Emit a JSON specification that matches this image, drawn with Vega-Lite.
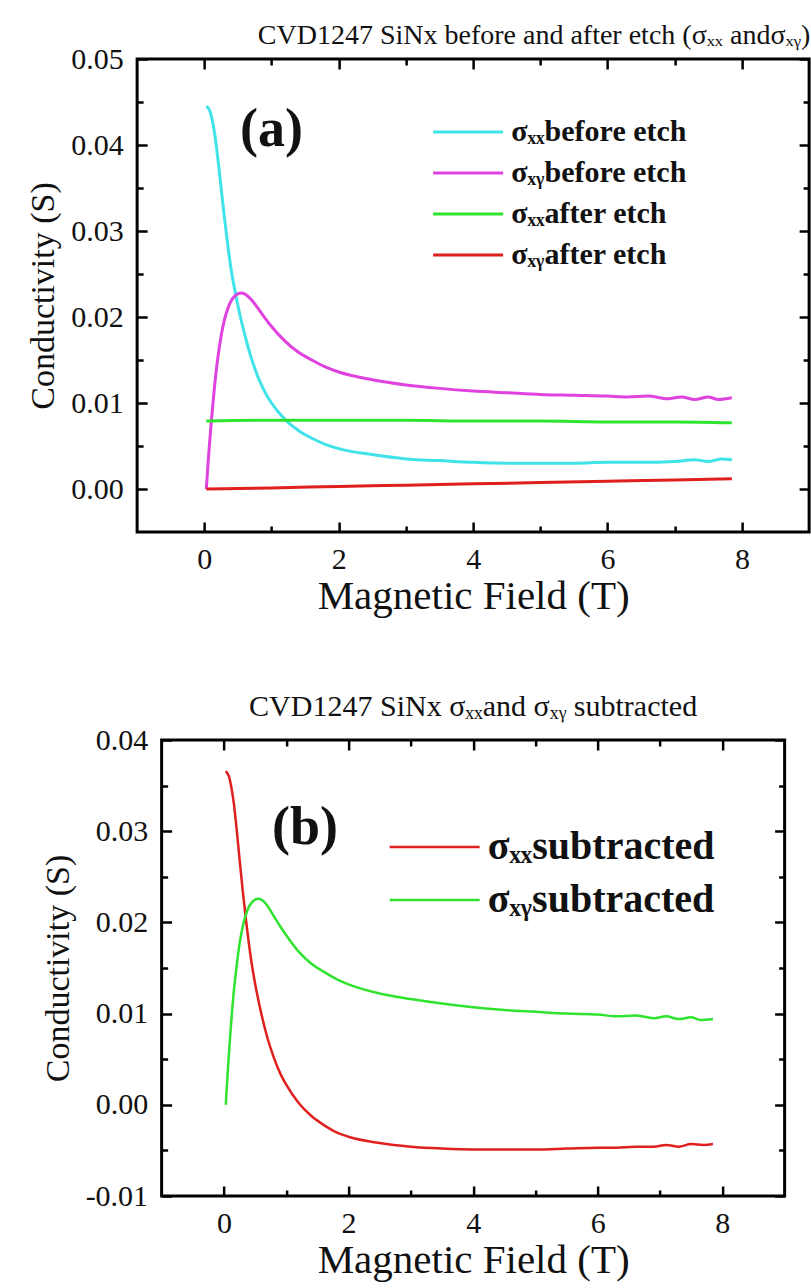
{
  "$schema": "https://vega.github.io/schema/vega-lite/v6.json",
  "background": "white",
  "padding": {"left": 25, "top": 20, "right": 0, "bottom": 0},
  "center": true,
  "spacing": 72,
  "resolve": {"scale": {"color": "independent"}, "legend": {"color": "independent"}},
  "config": {
    "font": "Liberation Serif",
    "view": {"stroke": "black", "strokeWidth": 3},
    "axis": {
      "grid": false,
      "domain": false,
      "offset": -10,
      "tickSize": 10,
      "tickColor": "black",
      "tickWidth": 2.5,
      "labelFlush": false,
      "labelFont": "Liberation Serif",
      "labelFontSize": 30,
      "labelColor": "#111",
      "titleFont": "Liberation Serif",
      "titleFontWeight": "normal",
      "titleColor": "#111"
    },
    "title": {"font": "Liberation Serif", "fontWeight": "normal", "fontSize": 28, "color": "#111"}
  },
  "vconcat": [
    {
      "title": {"text": "CVD1247 SiNx before and after etch (σₓₓ andσₓᵧ)", "anchor": "end", "offset": -6},
      "width": 672,
      "height": 473,
      "layer": [
        {
          "data": {"values": [
            {"B": 0.03, "S": 0.0445, "series": "σₓₓbefore etch"},
            {"B": 0.08, "S": 0.044, "series": "σₓₓbefore etch"},
            {"B": 0.12, "S": 0.0428, "series": "σₓₓbefore etch"},
            {"B": 0.16, "S": 0.041, "series": "σₓₓbefore etch"},
            {"B": 0.2, "S": 0.0385, "series": "σₓₓbefore etch"},
            {"B": 0.25, "S": 0.035, "series": "σₓₓbefore etch"},
            {"B": 0.3, "S": 0.0315, "series": "σₓₓbefore etch"},
            {"B": 0.35, "S": 0.0283, "series": "σₓₓbefore etch"},
            {"B": 0.4, "S": 0.0255, "series": "σₓₓbefore etch"},
            {"B": 0.45, "S": 0.0233, "series": "σₓₓbefore etch"},
            {"B": 0.5, "S": 0.0213, "series": "σₓₓbefore etch"},
            {"B": 0.6, "S": 0.018, "series": "σₓₓbefore etch"},
            {"B": 0.7, "S": 0.0152, "series": "σₓₓbefore etch"},
            {"B": 0.8, "S": 0.013, "series": "σₓₓbefore etch"},
            {"B": 0.9, "S": 0.0113, "series": "σₓₓbefore etch"},
            {"B": 1.0, "S": 0.01, "series": "σₓₓbefore etch"},
            {"B": 1.2, "S": 0.0081, "series": "σₓₓbefore etch"},
            {"B": 1.4, "S": 0.0068, "series": "σₓₓbefore etch"},
            {"B": 1.6, "S": 0.0059, "series": "σₓₓbefore etch"},
            {"B": 1.8, "S": 0.0052, "series": "σₓₓbefore etch"},
            {"B": 2.0, "S": 0.0047, "series": "σₓₓbefore etch"},
            {"B": 2.5, "S": 0.004, "series": "σₓₓbefore etch"},
            {"B": 3.0, "S": 0.0035, "series": "σₓₓbefore etch"},
            {"B": 3.5, "S": 0.0033, "series": "σₓₓbefore etch"},
            {"B": 4.0, "S": 0.0031, "series": "σₓₓbefore etch"},
            {"B": 4.5, "S": 0.003, "series": "σₓₓbefore etch"},
            {"B": 5.0, "S": 0.003, "series": "σₓₓbefore etch"},
            {"B": 5.5, "S": 0.003, "series": "σₓₓbefore etch"},
            {"B": 6.0, "S": 0.0031, "series": "σₓₓbefore etch"},
            {"B": 6.5, "S": 0.0031, "series": "σₓₓbefore etch"},
            {"B": 7.0, "S": 0.0032, "series": "σₓₓbefore etch"},
            {"B": 7.3, "S": 0.0034, "series": "σₓₓbefore etch"},
            {"B": 7.5, "S": 0.0032, "series": "σₓₓbefore etch"},
            {"B": 7.7, "S": 0.0035, "series": "σₓₓbefore etch"},
            {"B": 7.85, "S": 0.0034, "series": "σₓₓbefore etch"},

            {"B": 0.03, "S": 0.0, "series": "σₓᵧbefore etch"},
            {"B": 0.06, "S": 0.0035, "series": "σₓᵧbefore etch"},
            {"B": 0.1, "S": 0.0075, "series": "σₓᵧbefore etch"},
            {"B": 0.15, "S": 0.0118, "series": "σₓᵧbefore etch"},
            {"B": 0.2, "S": 0.0152, "series": "σₓᵧbefore etch"},
            {"B": 0.25, "S": 0.0178, "series": "σₓᵧbefore etch"},
            {"B": 0.3, "S": 0.0197, "series": "σₓᵧbefore etch"},
            {"B": 0.35, "S": 0.021, "series": "σₓᵧbefore etch"},
            {"B": 0.4, "S": 0.0219, "series": "σₓᵧbefore etch"},
            {"B": 0.45, "S": 0.0224, "series": "σₓᵧbefore etch"},
            {"B": 0.5, "S": 0.0227, "series": "σₓᵧbefore etch"},
            {"B": 0.55, "S": 0.0228, "series": "σₓᵧbefore etch"},
            {"B": 0.6, "S": 0.0227, "series": "σₓᵧbefore etch"},
            {"B": 0.7, "S": 0.022, "series": "σₓᵧbefore etch"},
            {"B": 0.8, "S": 0.021, "series": "σₓᵧbefore etch"},
            {"B": 0.9, "S": 0.0199, "series": "σₓᵧbefore etch"},
            {"B": 1.0, "S": 0.0189, "series": "σₓᵧbefore etch"},
            {"B": 1.2, "S": 0.0172, "series": "σₓᵧbefore etch"},
            {"B": 1.4, "S": 0.0159, "series": "σₓᵧbefore etch"},
            {"B": 1.6, "S": 0.015, "series": "σₓᵧbefore etch"},
            {"B": 1.8, "S": 0.0142, "series": "σₓᵧbefore etch"},
            {"B": 2.0, "S": 0.0136, "series": "σₓᵧbefore etch"},
            {"B": 2.5, "S": 0.0127, "series": "σₓᵧbefore etch"},
            {"B": 3.0, "S": 0.0121, "series": "σₓᵧbefore etch"},
            {"B": 3.5, "S": 0.0117, "series": "σₓᵧbefore etch"},
            {"B": 4.0, "S": 0.0114, "series": "σₓᵧbefore etch"},
            {"B": 4.5, "S": 0.0112, "series": "σₓᵧbefore etch"},
            {"B": 5.0, "S": 0.011, "series": "σₓᵧbefore etch"},
            {"B": 5.5, "S": 0.0109, "series": "σₓᵧbefore etch"},
            {"B": 6.0, "S": 0.0108, "series": "σₓᵧbefore etch"},
            {"B": 6.3, "S": 0.0107, "series": "σₓᵧbefore etch"},
            {"B": 6.6, "S": 0.0108, "series": "σₓᵧbefore etch"},
            {"B": 6.9, "S": 0.0105, "series": "σₓᵧbefore etch"},
            {"B": 7.1, "S": 0.0107, "series": "σₓᵧbefore etch"},
            {"B": 7.3, "S": 0.0104, "series": "σₓᵧbefore etch"},
            {"B": 7.5, "S": 0.0107, "series": "σₓᵧbefore etch"},
            {"B": 7.65, "S": 0.0104, "series": "σₓᵧbefore etch"},
            {"B": 7.85, "S": 0.0106, "series": "σₓᵧbefore etch"},

            {"B": 0.03, "S": 0.0079, "series": "σₓₓafter etch"},
            {"B": 1.0, "S": 0.008, "series": "σₓₓafter etch"},
            {"B": 2.0, "S": 0.008, "series": "σₓₓafter etch"},
            {"B": 3.0, "S": 0.008, "series": "σₓₓafter etch"},
            {"B": 4.0, "S": 0.0079, "series": "σₓₓafter etch"},
            {"B": 5.0, "S": 0.0079, "series": "σₓₓafter etch"},
            {"B": 6.0, "S": 0.0078, "series": "σₓₓafter etch"},
            {"B": 7.0, "S": 0.0078, "series": "σₓₓafter etch"},
            {"B": 7.85, "S": 0.0077, "series": "σₓₓafter etch"},

            {"B": 0.03, "S": 0.0, "series": "σₓᵧafter etch"},
            {"B": 1.0, "S": 0.00013, "series": "σₓᵧafter etch"},
            {"B": 2.0, "S": 0.0003, "series": "σₓᵧafter etch"},
            {"B": 3.0, "S": 0.00045, "series": "σₓᵧafter etch"},
            {"B": 4.0, "S": 0.0006, "series": "σₓᵧafter etch"},
            {"B": 5.0, "S": 0.00075, "series": "σₓᵧafter etch"},
            {"B": 6.0, "S": 0.0009, "series": "σₓᵧafter etch"},
            {"B": 7.0, "S": 0.00105, "series": "σₓᵧafter etch"},
            {"B": 7.85, "S": 0.0012, "series": "σₓᵧafter etch"}
          ]},
          "mark": {"type": "line", "strokeWidth": 3, "interpolate": "monotone"},
          "encoding": {
            "x": {
              "field": "B", "type": "quantitative",
              "scale": {"domain": [-1, 9], "nice": false, "zero": false},
              "axis": {
                "orient": "bottom",
                "title": "Magnetic Field (T)",
                "titleFont": "Liberation Serif", "titleFontSize": 41, "labelFont": "Liberation Serif",
                "values": [0, 1, 2, 3, 4, 5, 6, 7, 8],
                "labelExpr": "datum.value % 2 === 0 ? datum.label : ''",
                "tickDash": {"condition": {"test": "datum.value % 2 === 0", "value": [10, 0]}, "value": [0, 4, 6, 100]},
                "labelPadding": 12,
                "titlePadding": 2
              }
            },
            "y": {
              "field": "S", "type": "quantitative",
              "scale": {"domain": [-0.005, 0.05], "nice": false, "zero": false},
              "axis": {
                "orient": "left",
                "title": "Conductivity (S)",
                "titleFont": "Liberation Serif", "titleFontSize": 34, "labelFont": "Liberation Serif",
                "values": [0, 0.005, 0.01, 0.015, 0.02, 0.025, 0.03, 0.035, 0.04, 0.045, 0.05],
                "format": ".2f",
                "labelExpr": "abs(datum.value * 100 - round(datum.value * 100)) < 0.000001 ? datum.label : ''",
                "tickDash": {"condition": {"test": "abs(datum.value * 100 - round(datum.value * 100)) < 0.000001", "value": [10, 0]}, "value": [0, 4, 6, 100]},
                "labelPadding": 14,
                "titlePadding": 10
              }
            },
            "color": {
              "field": "series", "type": "nominal",
              "scale": {
                "domain": ["σₓₓbefore etch", "σₓᵧbefore etch", "σₓₓafter etch", "σₓᵧafter etch"],
                "range": ["#3fe3e8", "#e042e0", "#2fe32f", "#e0201e"]
              },
              "legend": {
                "orient": "none", "legendX": 316, "legendY": 58, "title": null,
                "symbolType": "M-4,0H4", "symbolSize": 306, "symbolStrokeWidth": 3,
                "labelFont": "Liberation Serif", "labelFontSize": 30, "labelFontWeight": "bold",
                "labelColor": "#111", "labelOffset": 28, "labelLimit": 0, "rowPadding": 11
              }
            }
          }
        },
        {
          "data": {"values": [{"label": "(a)"}]},
          "mark": {"type": "text", "font": "Liberation Serif", "fontSize": 54, "fontWeight": "bold", "color": "#111"},
          "encoding": {
            "x": {
              "datum": 1.0, "type": "quantitative",
              "scale": {"domain": [-1, 9], "nice": false, "zero": false},
              "axis": {
                "orient": "top", "title": null, "labels": false,
                "values": [0, 1, 2, 3, 4, 5, 6, 7, 8],
                "tickDash": {"condition": {"test": "datum.value % 2 === 0", "value": [10, 0]}, "value": [0, 4, 6, 100]}
              }
            },
            "y": {
              "datum": 0.0418, "type": "quantitative",
              "scale": {"domain": [-0.005, 0.05], "nice": false, "zero": false},
              "axis": {
                "orient": "right", "title": null, "labels": false,
                "values": [0, 0.005, 0.01, 0.015, 0.02, 0.025, 0.03, 0.035, 0.04, 0.045, 0.05],
                "tickDash": {"condition": {"test": "abs(datum.value * 100 - round(datum.value * 100)) < 0.000001", "value": [10, 0]}, "value": [0, 4, 6, 100]}
              }
            },
            "text": {"field": "label"}
          }
        }
      ],
      "resolve": {"axis": {"x": "independent", "y": "independent"}}
    },
    {
      "title": {"text": "CVD1247 SiNx σₓₓand σₓᵧ subtracted", "anchor": "middle", "offset": 3, "fontSize": 30},
      "width": 623,
      "height": 456,
      "layer": [
        {
          "data": {"values": [
            {"B": 0.03, "S": 0.0366, "series": "σₓₓsubtracted"},
            {"B": 0.08, "S": 0.036, "series": "σₓₓsubtracted"},
            {"B": 0.12, "S": 0.0348, "series": "σₓₓsubtracted"},
            {"B": 0.16, "S": 0.033, "series": "σₓₓsubtracted"},
            {"B": 0.2, "S": 0.0305, "series": "σₓₓsubtracted"},
            {"B": 0.25, "S": 0.027, "series": "σₓₓsubtracted"},
            {"B": 0.3, "S": 0.0236, "series": "σₓₓsubtracted"},
            {"B": 0.35, "S": 0.0205, "series": "σₓₓsubtracted"},
            {"B": 0.4, "S": 0.0177, "series": "σₓₓsubtracted"},
            {"B": 0.45, "S": 0.0153, "series": "σₓₓsubtracted"},
            {"B": 0.5, "S": 0.0133, "series": "σₓₓsubtracted"},
            {"B": 0.6, "S": 0.01, "series": "σₓₓsubtracted"},
            {"B": 0.7, "S": 0.0073, "series": "σₓₓsubtracted"},
            {"B": 0.8, "S": 0.0052, "series": "σₓₓsubtracted"},
            {"B": 0.9, "S": 0.0035, "series": "σₓₓsubtracted"},
            {"B": 1.0, "S": 0.0022, "series": "σₓₓsubtracted"},
            {"B": 1.2, "S": 0.0002, "series": "σₓₓsubtracted"},
            {"B": 1.4, "S": -0.0012, "series": "σₓₓsubtracted"},
            {"B": 1.6, "S": -0.0022, "series": "σₓₓsubtracted"},
            {"B": 1.8, "S": -0.003, "series": "σₓₓsubtracted"},
            {"B": 2.0, "S": -0.0035, "series": "σₓₓsubtracted"},
            {"B": 2.5, "S": -0.0042, "series": "σₓₓsubtracted"},
            {"B": 3.0, "S": -0.0046, "series": "σₓₓsubtracted"},
            {"B": 3.5, "S": -0.0048, "series": "σₓₓsubtracted"},
            {"B": 4.0, "S": -0.0049, "series": "σₓₓsubtracted"},
            {"B": 4.5, "S": -0.0049, "series": "σₓₓsubtracted"},
            {"B": 5.0, "S": -0.0049, "series": "σₓₓsubtracted"},
            {"B": 5.5, "S": -0.0048, "series": "σₓₓsubtracted"},
            {"B": 6.0, "S": -0.0047, "series": "σₓₓsubtracted"},
            {"B": 6.3, "S": -0.0047, "series": "σₓₓsubtracted"},
            {"B": 6.6, "S": -0.0046, "series": "σₓₓsubtracted"},
            {"B": 6.9, "S": -0.0046, "series": "σₓₓsubtracted"},
            {"B": 7.1, "S": -0.0044, "series": "σₓₓsubtracted"},
            {"B": 7.3, "S": -0.0046, "series": "σₓₓsubtracted"},
            {"B": 7.5, "S": -0.0043, "series": "σₓₓsubtracted"},
            {"B": 7.7, "S": -0.0044, "series": "σₓₓsubtracted"},
            {"B": 7.85, "S": -0.0043, "series": "σₓₓsubtracted"},

            {"B": 0.03, "S": 0.0, "series": "σₓᵧsubtracted"},
            {"B": 0.06, "S": 0.0035, "series": "σₓᵧsubtracted"},
            {"B": 0.1, "S": 0.0075, "series": "σₓᵧsubtracted"},
            {"B": 0.15, "S": 0.0118, "series": "σₓᵧsubtracted"},
            {"B": 0.2, "S": 0.015, "series": "σₓᵧsubtracted"},
            {"B": 0.25, "S": 0.0176, "series": "σₓᵧsubtracted"},
            {"B": 0.3, "S": 0.0195, "series": "σₓᵧsubtracted"},
            {"B": 0.35, "S": 0.0208, "series": "σₓᵧsubtracted"},
            {"B": 0.4, "S": 0.0217, "series": "σₓᵧsubtracted"},
            {"B": 0.45, "S": 0.0222, "series": "σₓᵧsubtracted"},
            {"B": 0.5, "S": 0.0225, "series": "σₓᵧsubtracted"},
            {"B": 0.55, "S": 0.0226, "series": "σₓᵧsubtracted"},
            {"B": 0.6, "S": 0.0225, "series": "σₓᵧsubtracted"},
            {"B": 0.7, "S": 0.0218, "series": "σₓᵧsubtracted"},
            {"B": 0.8, "S": 0.0207, "series": "σₓᵧsubtracted"},
            {"B": 0.9, "S": 0.0196, "series": "σₓᵧsubtracted"},
            {"B": 1.0, "S": 0.0186, "series": "σₓᵧsubtracted"},
            {"B": 1.2, "S": 0.0168, "series": "σₓᵧsubtracted"},
            {"B": 1.4, "S": 0.0155, "series": "σₓᵧsubtracted"},
            {"B": 1.6, "S": 0.0146, "series": "σₓᵧsubtracted"},
            {"B": 1.8, "S": 0.0138, "series": "σₓᵧsubtracted"},
            {"B": 2.0, "S": 0.0132, "series": "σₓᵧsubtracted"},
            {"B": 2.5, "S": 0.0122, "series": "σₓᵧsubtracted"},
            {"B": 3.0, "S": 0.0116, "series": "σₓᵧsubtracted"},
            {"B": 3.5, "S": 0.0111, "series": "σₓᵧsubtracted"},
            {"B": 4.0, "S": 0.0107, "series": "σₓᵧsubtracted"},
            {"B": 4.5, "S": 0.0104, "series": "σₓᵧsubtracted"},
            {"B": 5.0, "S": 0.0102, "series": "σₓᵧsubtracted"},
            {"B": 5.5, "S": 0.01, "series": "σₓᵧsubtracted"},
            {"B": 6.0, "S": 0.0099, "series": "σₓᵧsubtracted"},
            {"B": 6.3, "S": 0.0097, "series": "σₓᵧsubtracted"},
            {"B": 6.6, "S": 0.0098, "series": "σₓᵧsubtracted"},
            {"B": 6.9, "S": 0.0095, "series": "σₓᵧsubtracted"},
            {"B": 7.1, "S": 0.0097, "series": "σₓᵧsubtracted"},
            {"B": 7.3, "S": 0.0094, "series": "σₓᵧsubtracted"},
            {"B": 7.5, "S": 0.0096, "series": "σₓᵧsubtracted"},
            {"B": 7.65, "S": 0.0093, "series": "σₓᵧsubtracted"},
            {"B": 7.85, "S": 0.0094, "series": "σₓᵧsubtracted"}
          ]},
          "mark": {"type": "line", "strokeWidth": 2.5, "interpolate": "monotone"},
          "encoding": {
            "x": {
              "field": "B", "type": "quantitative",
              "scale": {"domain": [-1, 9], "nice": false, "zero": false},
              "axis": {
                "orient": "bottom",
                "title": "Magnetic Field (T)",
                "titleFont": "Liberation Serif", "titleFontSize": 41, "labelFont": "Liberation Serif",
                "values": [0, 1, 2, 3, 4, 5, 6, 7, 8],
                "labelExpr": "datum.value % 2 === 0 ? datum.label : ''",
                "tickDash": {"condition": {"test": "datum.value % 2 === 0", "value": [10, 0]}, "value": [0, 4, 6, 100]},
                "labelPadding": 12,
                "titlePadding": 2
              }
            },
            "y": {
              "field": "S", "type": "quantitative",
              "scale": {"domain": [-0.01, 0.04], "nice": false, "zero": false},
              "axis": {
                "orient": "left",
                "title": "Conductivity (S)",
                "titleFont": "Liberation Serif", "titleFontSize": 34, "labelFont": "Liberation Serif",
                "values": [-0.01, -0.005, 0, 0.005, 0.01, 0.015, 0.02, 0.025, 0.03, 0.035, 0.04],
                "format": ".2f",
                "labelExpr": "abs(datum.value * 100 - round(datum.value * 100)) < 0.000001 ? replace(datum.label, '−', '-') : ''",
                "tickDash": {"condition": {"test": "abs(datum.value * 100 - round(datum.value * 100)) < 0.000001", "value": [10, 0]}, "value": [0, 4, 6, 100]},
                "labelPadding": 14,
                "titlePadding": 10
              }
            },
            "color": {
              "field": "series", "type": "nominal",
              "scale": {
                "domain": ["σₓₓsubtracted", "σₓᵧsubtracted"],
                "range": ["#e0201e", "#2fe32f"]
              },
              "legend": {
                "orient": "none", "legendX": 253, "legendY": 87, "title": null,
                "symbolType": "M-4,0H4", "symbolSize": 506, "symbolStrokeWidth": 2.5,
                "labelFont": "Liberation Serif", "labelFontSize": 40, "labelFontWeight": "bold",
                "labelColor": "#111", "labelOffset": 33, "labelLimit": 0, "rowPadding": 13
              }
            }
          }
        },
        {
          "data": {"values": [{"label": "(b)"}]},
          "mark": {"type": "text", "font": "Liberation Serif", "fontSize": 54, "fontWeight": "bold", "color": "#111"},
          "encoding": {
            "x": {
              "datum": 1.3, "type": "quantitative",
              "scale": {"domain": [-1, 9], "nice": false, "zero": false},
              "axis": {
                "orient": "top", "title": null, "labels": false,
                "values": [0, 1, 2, 3, 4, 5, 6, 7, 8],
                "tickDash": {"condition": {"test": "datum.value % 2 === 0", "value": [10, 0]}, "value": [0, 4, 6, 100]}
              }
            },
            "y": {
              "datum": 0.0303, "type": "quantitative",
              "scale": {"domain": [-0.01, 0.04], "nice": false, "zero": false},
              "axis": {
                "orient": "right", "title": null, "labels": false,
                "values": [-0.01, -0.005, 0, 0.005, 0.01, 0.015, 0.02, 0.025, 0.03, 0.035, 0.04],
                "tickDash": {"condition": {"test": "abs(datum.value * 100 - round(datum.value * 100)) < 0.000001", "value": [10, 0]}, "value": [0, 4, 6, 100]}
              }
            },
            "text": {"field": "label"}
          }
        }
      ],
      "resolve": {"axis": {"x": "independent", "y": "independent"}}
    }
  ]
}
